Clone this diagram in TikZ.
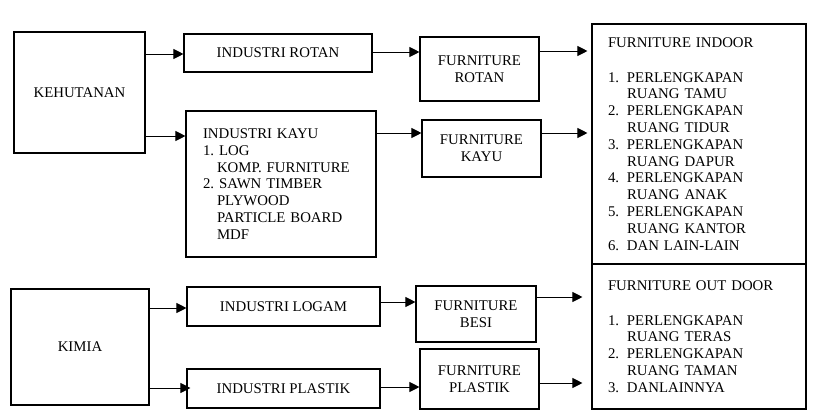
\documentclass[tikz,border=0pt]{standalone}
\usepackage{fontspec}
\setmainfont{Liberation Serif}
\usetikzlibrary{arrows.meta}
\frenchspacing

% numbered entry on two lines
\newcommand{\twoline}[3]{\makebox[19pt][l]{#1}#2\\\hspace*{19pt}#3}

\begin{document}
\begin{tikzpicture}[x=1pt,y=-1pt,line width=0.9pt,
    box node/.style={draw,line width=1.1pt,align=center,inner sep=2pt,font=\fontsize{14.8}{16.8}\selectfont},
    list node/.style={draw,line width=1.1pt,align=left,font=\fontsize{14.8}{16.8}\selectfont},
    arrow line/.style={-{Triangle[length=10pt,width=10pt]}}]
    \useasboundingbox (0,0) rectangle (828,418);

    % sources
    \node[box node, minimum width=131pt, minimum height=121pt] (1) at (79.5,92.5) {KEHUTANAN};
    \node[box node, minimum width=138pt, minimum height=116pt] (2) at (80,347) {KIMIA};

    % industries
    \node[box node, minimum width=188pt, minimum height=38pt] (3) at (278,53) {INDUSTRI ROTAN};
    \node[list node, text width=156pt, inner xsep=17pt, minimum height=146pt] (4) at (281,184)
        {INDUSTRI KAYU\\1. LOG\\\hspace*{14pt}KOMP. FURNITURE\\2. SAWN TIMBER\\\hspace*{14pt}PLYWOOD\\\hspace*{14pt}PARTICLE BOARD\\\hspace*{14pt}MDF};
    \node[box node, minimum width=193pt, minimum height=39pt] (5) at (283.5,306.5) {INDUSTRI LOGAM};
    \node[box node, minimum width=193pt, minimum height=39pt] (6) at (283.5,388.5) {INDUSTRI PLASTIK};

    % products
    \node[box node, minimum width=119pt, minimum height=64pt] (7) at (479.5,69) {FURNITURE\\ROTAN};
    \node[box node, minimum width=119pt, minimum height=57pt] (8) at (481.5,148.5) {FURNITURE\\KAYU};
    \node[box node, minimum width=120pt, minimum height=56pt] (9) at (476,314) {FURNITURE\\BESI};
    \node[box node, minimum width=119pt, minimum height=60pt] (10) at (479.5,379) {FURNITURE\\PLASTIK};

    % markets
    \node[list node, text width=182pt, inner xsep=16pt, minimum height=240pt] (11) at (699,144)
        {FURNITURE INDOOR\\[18pt]
         \twoline{1.}{PERLENGKAPAN}{RUANG TAMU}\\
         \twoline{2.}{PERLENGKAPAN}{RUANG TIDUR}\\
         \twoline{3.}{PERLENGKAPAN}{RUANG DAPUR}\\
         \twoline{4.}{PERLENGKAPAN}{RUANG ANAK}\\
         \twoline{5.}{PERLENGKAPAN}{RUANG KANTOR}\\
         \makebox[19pt][l]{6.}DAN LAIN-LAIN};
    \node[list node, text width=182pt, inner xsep=16pt, minimum height=145pt] (12) at (699,336.5)
        {FURNITURE OUT DOOR\\[18pt]
         \twoline{1.}{PERLENGKAPAN}{RUANG TERAS}\\
         \twoline{2.}{PERLENGKAPAN}{RUANG TAMAN}\\
         \makebox[19pt][l]{3.}DANLAINNYA\\[4pt]};

    % arrow starts
    \coordinate (s1) at ([yshift=38.5pt]1.east);
    \coordinate (s2) at ([yshift=-43.5pt]1.east);
    \coordinate (s3) at ([yshift=1pt]3.east);
    \coordinate (s4) at ([yshift=51pt]4.east);
    \coordinate (s5) at ([yshift=18pt]7.east);
    \coordinate (s6) at ([yshift=15.5pt]8.east);
    \coordinate (s7) at ([yshift=39pt]2.east);
    \coordinate (s8) at ([yshift=-41pt]2.east);
    \coordinate (s9) at ([yshift=4.5pt]5.east);
    \coordinate (s10) at ([yshift=1.5pt]6.east);
    \coordinate (s11) at ([yshift=17pt]9.east);
    \coordinate (s12) at ([yshift=-4pt]10.east);

    \path[arrow line]
        (s1) edge (s1 -| 3.west)
        (s2) edge (s2 -| 4.west)
        (s3) edge (s3 -| 7.west)
        (s4) edge (s4 -| 8.west)
        (s5) edge[shorten >=4pt] (s5 -| 11.west)
        (s6) edge[shorten >=4pt] (s6 -| 11.west)
        (s7) edge (s7 -| 5.west)
        (s8) edge[shorten >=-4pt] (s8 -| 6.west)
        (s9) edge (s9 -| 9.west)
        (s10) edge (s10 -| 10.west)
        (s11) edge[shorten >=9pt] (s11 -| 12.west)
        (s12) edge[shorten >=9pt] (s12 -| 12.west)
        ;
\end{tikzpicture}
\end{document}
